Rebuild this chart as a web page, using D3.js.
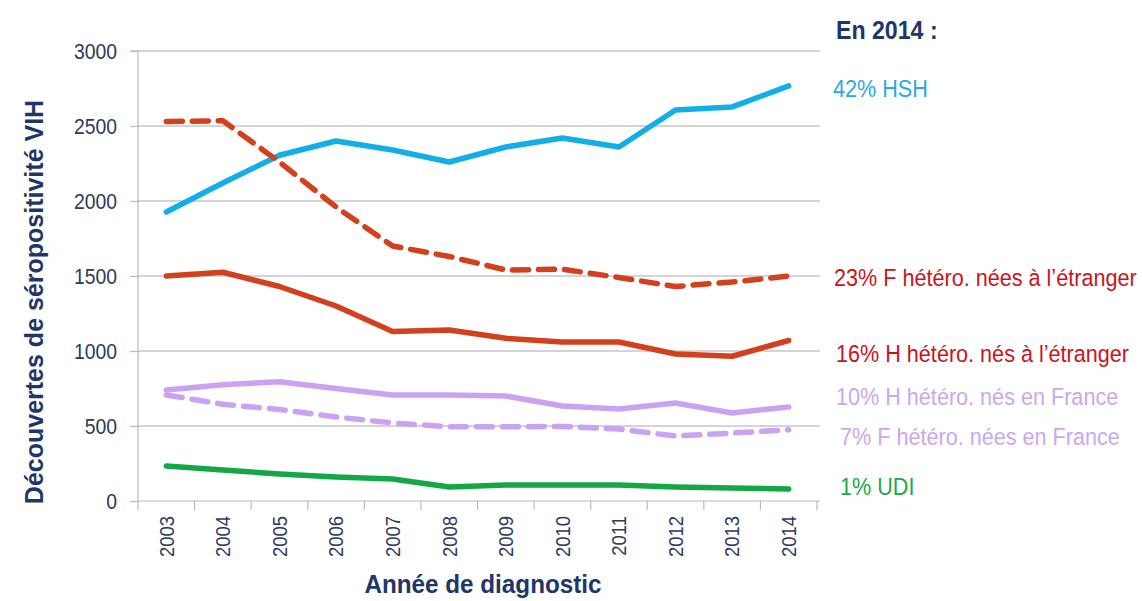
<!DOCTYPE html>
<html><head><meta charset="utf-8">
<script src="https://cdn.jsdelivr.net/npm/d3@7"></script>
<style>
body{margin:0;background:#fff;}
svg{font-family:"Liberation Sans",Arial,sans-serif;}
</style></head><body>
<svg id="c" width="1142" height="601"></svg>
<script>
const years = ["2003","2004","2005","2006","2007","2008","2009","2010","2011","2012","2013","2014"];
const yTicks = [0,500,1000,1500,2000,2500,3000];
const hsh = [1927,2120,2305,2400,2340,2260,2360,2420,2360,2607,2627,2767];
const fHeteroEtr = [2530,2535,2260,1960,1700,1630,1540,1545,1490,1430,1460,1500];
const hHeteroEtr = [1500,1525,1430,1300,1130,1140,1085,1060,1060,980,965,1070];
const hHeteroFr = [740,775,795,750,707,707,700,633,613,653,587,627];
const fHeteroFr = [707,645,610,560,520,495,495,497,480,433,453,475];
const udi = [233,207,180,160,147,93,107,107,107,93,87,80];
const labels = ["42% HSH","23% F hétéro. nées à l’étranger","16% H hétéro. nés à l’étranger","10% H hétéro. nés en France","7% F hétéro. nées en France","1% UDI"];

const series = [
  {v:hsh, color:"#12afe6", dash:null},
  {v:fHeteroEtr, color:"#d2401e", dash:"16,10"},
  {v:hHeteroEtr, color:"#d2401e", dash:null},
  {v:hHeteroFr, color:"#cba2f2", dash:null},
  {v:fHeteroFr, color:"#cba2f2", dash:"16,10"},
  {v:udi, color:"#13a845", dash:null}
];
const legend = [
  {t:labels[0], c:"#2aa9e2", x:833, y:97},
  {t:labels[1], c:"#c9141c", x:834, y:286},
  {t:labels[2], c:"#c9141c", x:836, y:362},
  {t:labels[3], c:"#c8a8ef", x:836, y:405},
  {t:labels[4], c:"#c8a8ef", x:840, y:445},
  {t:labels[5], c:"#20a84a", x:840, y:495}
];

const svg = d3.select("#c");
const L=138, R=817, T=51, B=501;
const x = d3.scaleBand().domain(years).range([L,R]);
const y = d3.scaleLinear().domain([0,3000]).range([B,T]);

// gridlines
svg.append("g").selectAll("line").data(yTicks.filter(d=>d>0)).join("line")
  .attr("x1",L).attr("x2",820).attr("y1",d=>y(d)).attr("y2",d=>y(d))
  .attr("stroke","#c4c4cc").attr("stroke-width",1.5);

// y axis
const ya = svg.append("g").attr("transform",`translate(${L},0)`)
  .call(d3.axisLeft(y).tickValues(yTicks).tickFormat(d3.format("d")).tickSize(8));
ya.select(".domain").attr("stroke","#b8b8c4").attr("stroke-width",1.2).attr("d",`M-8,${T}H0V${B}`);
ya.selectAll(".tick line").attr("stroke","#b8b8c4").attr("stroke-width",1.2);
ya.selectAll(".tick text").attr("fill","#2e3a5c").style("font-size","22px")
  .attr("x",0).attr("transform","translate(-21,0) scale(0.88,1)");

// x axis
const xa = svg.append("g").attr("transform",`translate(0,${B})`)
  .call(d3.axisBottom(x).tickSize(0));
xa.select(".domain").attr("stroke","#b8b8c4").attr("stroke-width",1.2).attr("d",`M${L},0H820`);
xa.selectAll(".tick text").attr("fill","#2e3a5c").style("font-size","21px")
  .attr("text-anchor","end").attr("x",0).attr("y",0).attr("dy","0.35em")
  .attr("transform","rotate(-90) translate(-15,0) scale(0.88,1)");
svg.append("g").selectAll("line").data(years.concat(["end"])).join("line")
  .attr("x1",(d,i)=>L+i*x.bandwidth()).attr("x2",(d,i)=>L+i*x.bandwidth())
  .attr("y1",B).attr("y2",B+9).attr("stroke","#b8b8c4").attr("stroke-width",1.2);

// lines
const line = d3.line().x((d,i)=>x(years[i])+x.bandwidth()/2).y(d=>y(d));
svg.append("g").selectAll("path").data(series).join("path")
  .attr("d",d=>line(d.v)).attr("fill","none")
  .attr("stroke",d=>d.color).attr("stroke-width",5.5)
  .attr("stroke-linejoin","round").attr("stroke-linecap","round")
  .attr("stroke-dasharray",d=>d.dash);

// axis titles
svg.append("text").attr("transform","translate(43,302) rotate(-90)")
  .attr("text-anchor","middle").attr("fill","#1f3668")
  .style("font-size","25px").style("font-weight","bold").text("Découvertes de séropositivité VIH");
svg.append("text").attr("transform","translate(483,593) scale(0.97,1)").attr("text-anchor","middle").attr("fill","#1f3668")
  .style("font-size","25px").style("font-weight","bold").text("Année de diagnostic");

// legend
svg.append("text").attr("transform","translate(836,39) scale(0.89,1)").attr("fill","#1f3668")
  .style("font-size","26px").style("font-weight","bold").text("En 2014 :");
svg.append("g").selectAll("text").data(legend).join("text")
  .attr("transform",d=>`translate(${d.x},${d.y}) scale(0.92,1)`).attr("fill",d=>d.c)
  .style("font-size","23.5px").text(d=>d.t);
</script>
</body></html>
